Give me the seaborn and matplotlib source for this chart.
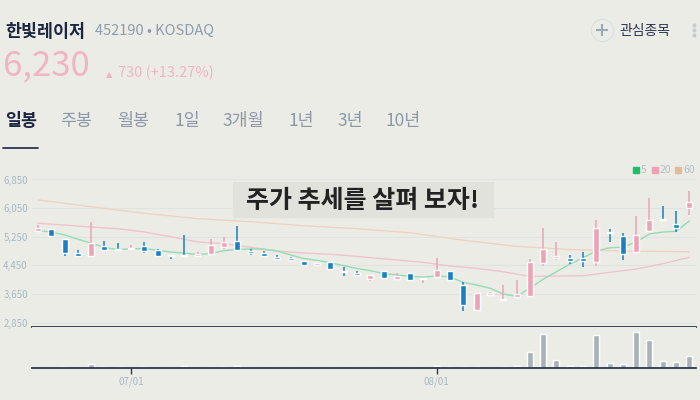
import numpy as np
import pandas as pd
import matplotlib
matplotlib.use("Agg")
import matplotlib.pyplot as plt
from matplotlib.patches import Rectangle
from matplotlib.lines import Line2D
import seaborn as sns

# %% 데이터
opens = [5420, 5460, 5190, 4790, 4720, 4990, 4920, 4910, 4980, 4880,
         4750, 4750, 4720, 4780, 4950, 5130, 4860, 4800, 4690, 4650,
         4570, 4460, 4530, 4290, 4230, 4070, 4290, 4060, 4230, 4060,
         4130, 4290, 3900, 3210, 3620, 3490, 3550, 3600, 4520, 4660,
         4660, 4650, 4550, 5380, 5270, 4820, 5420, 5740, 5600, 6060]
highs = [5580, 5460, 5190, 4880, 5660, 5130, 5080, 5020, 5100, 4900,
         4750, 5300, 4830, 5190, 5250, 5550, 4910, 4840, 4740, 4680,
         4570, 4520, 4530, 4390, 4300, 4180, 4290, 4230, 4230, 4100,
         4660, 4290, 3980, 3680, 3710, 3900, 4040, 4630, 5490, 5100,
         4730, 4810, 5730, 5460, 5350, 5830, 6330, 6110, 5970, 6520]
lows = [5420, 5250, 4710, 4690, 4720, 4850, 4880, 4890, 4790, 4720,
        4630, 4690, 4680, 4780, 4900, 4860, 4750, 4710, 4610, 4570,
        4440, 4430, 4330, 4160, 4190, 4020, 4090, 4060, 4030, 3960,
        4130, 4010, 3180, 3210, 3620, 3490, 3550, 3600, 4430, 4610,
        4480, 4400, 4440, 5090, 4610, 4820, 5390, 5710, 5390, 5860]
closes = [5480, 5270, 4800, 4720, 5070, 4880, 4880, 4940, 4840, 4720,
          4720, 4700, 4770, 5010, 5100, 4890, 4790, 4710, 4640, 4600,
          4470, 4520, 4360, 4250, 4190, 4180, 4100, 4160, 4050, 4100,
          4320, 4040, 3350, 3680, 3680, 3520, 3650, 4540, 4910, 4710,
          4580, 4580, 5490, 5360, 4780, 5300, 5730, 5710, 5500, 6230]
volumes = [9, 9, 30, 9, 120, 30, 30, 15, 30, 15,
           15, 70, 15, 40, 30, 70, 6, 6, 6, 6,
           6, 6, 6, 6, 6, 6, 6, 6, 6, 6,
           70, 30, 30, 30, 6, 30, 70, 470, 1020, 250,
           70, 70, 1000, 140, 110, 1090, 850, 220, 170, 370]

ma5 = [5420, 5380, 5300, 5180, 5070, 4950, 4890, 4910, 4920, 4870,
       4820, 4790, 4750, 4780, 4860, 4890, 4910, 4900, 4850, 4740,
       4640, 4590, 4520, 4440, 4360, 4300, 4220, 4180, 4140, 4120,
       4150, 4130, 3970, 3900, 3810, 3650, 3580, 3810, 4060, 4270,
       4480, 4660, 4850, 4940, 4960, 5100, 5330, 5380, 5400, 5690]
ma20_idx = [0, 2, 4, 6, 8, 10, 12, 14, 16, 18, 20, 22, 24, 25, 27, 29, 31,
            33, 35, 37, 39, 41, 43, 45, 47, 49]
ma20 = [5624, 5577, 5521, 5474, 5382, 5250, 5106, 5055, 4953, 4850, 4794,
        4757, 4701, 4663, 4598, 4533, 4430, 4366, 4271, 4141, 4150, 4159,
        4254, 4347, 4495, 4673]
ma60_idx = [0, 4, 8, 12, 16, 20, 24, 28, 32, 36, 40, 44, 49]
ma60 = [6277, 6089, 5905, 5754, 5670, 5558, 5474, 5360, 5150, 4980, 4892,
        4850, 4830]

price_ticks = [2850, 3650, 4450, 5250, 6050, 6850]
date_ticks = {7: "07/01", 30: "08/01"}
tabs = ["일봉", "주봉", "월봉", "1일", "3개월", "1년", "3년", "10년"]

df = pd.DataFrame({"open": opens, "high": highs, "low": lows,
                   "close": closes, "volume": volumes})
df["i"] = np.arange(len(df))

# %% 색상
BG = "#ecece7"
UP = "#eda3b5"
DOWN = "#1a80c4"
NAVY = "#2b3650"
GRID = "#e0e4e0"
TICK = "#a8b8c4"

sns.set_theme(style="white")
plt.rcParams["font.family"] = ["Noto Sans CJK KR", "DejaVu Sans"]

fig = plt.figure(figsize=(7, 4), dpi=100)
fig.patch.set_facecolor(BG)


def fx(px):
    return px / 700


def fy(py):
    return 1 - py / 400


ax = fig.add_axes([fx(32), fy(327), 664 / 700, 167 / 400])
axv = fig.add_axes([fx(32), fy(368), 664 / 700, 41 / 400])
for a in (ax, axv):
    a.set_facecolor(BG)
    for s in a.spines.values():
        s.set_visible(False)
    a.spines["bottom"].set_visible(True)
    a.spines["bottom"].set_color(NAVY)
    a.spines["bottom"].set_linewidth(1.3)
    a.set_xlim(-0.45, 49.5)

# %% 가격 캔들
for t in price_ticks:
    ax.axhline(t, color=GRID, lw=0.8, zorder=0)

sns.lineplot(x=ma60_idx, y=ma60, ax=ax, color="#efd3c0", lw=1, zorder=1)
sns.lineplot(x=ma20_idx, y=ma20, ax=ax, color="#efc4cc", lw=1, zorder=1)
sns.lineplot(x=df["i"], y=ma5, ax=ax, color="#94dcb2", lw=1, zorder=1)

colors = np.where(df["close"] >= df["open"], UP, DOWN)
body_lo = np.minimum(df["open"], df["close"])
body_h = np.maximum((df["close"] - df["open"]).abs(), 28)
ax.vlines(df["i"], df["low"], df["high"], colors=colors, lw=1.1, zorder=2)
ax.bar(df["i"], body_h, bottom=body_lo, width=0.45, color=colors, zorder=3)

ax.set_ylim(2725, 7395)
ax.set_yticks(price_ticks)
ax.set_yticklabels([f"{t:,}" for t in price_ticks], fontsize=7, color=TICK)
ax.tick_params(axis="y", length=0, pad=3)
ax.set_xticks([])
ax.set_xlabel("")
ax.set_ylabel("")

# %% 거래량
axv.bar(df["i"], df["volume"], width=0.45, color="#a9b1b9")
axv.set_ylim(0, 1230)
axv.set_yticks([])
axv.set_xticks(list(date_ticks.keys()))
axv.set_xticklabels(list(date_ticks.values()), fontsize=7, color=TICK)
axv.tick_params(axis="x", length=4, width=1, color=NAVY, pad=2, bottom=True)

# %% 헤더
fig.text(fx(5), fy(37), "한빛레이저", fontsize=12.5, weight="bold",
         color="#1c2640", va="baseline")
fig.text(fx(95), fy(35), "452190 • KOSDAQ", fontsize=10.5, color="#8d9cb0",
         va="baseline")
fig.text(fx(3), fy(76), "6,230", fontsize=25, color="#f0b4c2", va="baseline")
fig.text(fx(106), fy(77), "▲", fontsize=6, color="#f0b4c2", va="baseline",
         family=["DejaVu Sans"])
fig.text(fx(118), fy(77), "730 (+13.27%)", fontsize=10.5, color="#f0b4c2",
         va="baseline")

fig.add_artist(Line2D([fx(602)], [fy(30)], marker="o", markersize=16,
                      mfc="none", mec="#d4e2e2", mew=0.8))
fig.add_artist(Line2D([fx(602)], [fy(30)], marker="+", markersize=8,
                      color="#9aa8b8", mew=1.5))
fig.text(fx(619), fy(35), "관심종목", fontsize=10, color="#2a3550", va="baseline")
for dy in (25, 30, 35):
    fig.add_artist(Line2D([fx(694)], [fy(dy)], marker="o", markersize=3,
                          color="#c4ccd2", mec="none"))

tab_x = [5, 60, 117, 174, 222, 288, 337, 386]
for k, (label, x) in enumerate(zip(tabs, tab_x)):
    fig.text(fx(x), fy(126), label, fontsize=12.5,
             weight="bold" if k == 0 else "normal",
             color="#1c2640" if k == 0 else "#8c98a8", va="baseline")
fig.add_artist(Line2D([fx(3), fx(38)], [fy(148), fy(148)], color=NAVY, lw=1.3))

# %% 범례
for x, c, lab in [(633, "#1cbf68", "5"), (652, "#f0a0b4", "20"),
                  (675, "#e0bc9c", "60")]:
    fig.patches.append(Rectangle((fx(x), fy(173)), 6 / 700, 6 / 400,
                                 transform=fig.transFigure, color=c))
    fig.text(fx(x + 8), fy(170), lab, fontsize=7.5, color="#b4bec8",
             va="center")

# %% 안내 문구
fig.patches.append(Rectangle((fx(233), fy(217)), 260 / 700, 35 / 400,
                             transform=fig.transFigure, color="#e2e2dc",
                             zorder=5))
fig.text(fx(363), fy(208.5), "주가 추세를 살펴 보자!", fontsize=18,
         weight="bold", color="#222222", ha="center", va="baseline", zorder=6)

fig.savefig("out.png", dpi=100, facecolor=BG)
